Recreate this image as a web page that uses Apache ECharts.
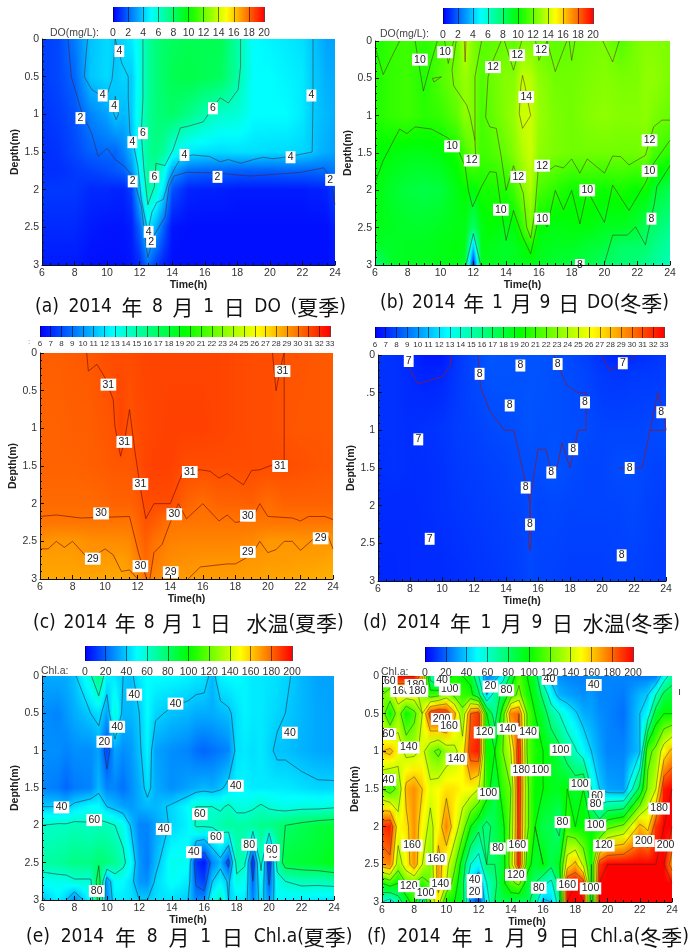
<!DOCTYPE html>
<html><head><meta charset="utf-8">
<style>html,body{margin:0;padding:0;background:#fff}#c{width:699px;height:952px}#c canvas{filter:blur(.45px)}</style>
<script src="https://cdn.jsdelivr.net/npm/echarts@6/dist/echarts.min.js"></script>
</head><body><div id="c"></div>
<script>
// ---------- (a) DO summer ----------
const aTimes=[6,7,8,9,10,10.5,11,11.5,12,12.5,13,13.5,14,15,16,17,18,19,20,21,22,22.5,23,23.5,24];
const aDepths=[0,.5,1,1.5,1.75,2,2.5,3];
const aRows=[
[1.2,1.4,2.4,3.8,4.3,4,4.2,4.6,5.5,6.9,7.6,8,8.2,8.4,8.4,8.4,6.8,5,4.8,4.6,4.4,4,3.6,3.2,3.2],
[1.2,1.4,2,3.9,4.3,3.9,4.2,4,5.4,6.9,7.6,8,8.4,8.6,8.4,8.2,6.8,5,5,4.8,4.6,4.1,3.8,3.4,3.4],
[1,1.2,1.6,2.6,3.2,3.9,3.6,4,5.6,7,7.6,7.8,8,7.4,6.6,6,5.8,5,5,5,4.6,4.1,3.8,3.6,3.4],
[.9,1,1.4,1.9,2.1,2,2.6,3.6,5.4,7,7.4,7,5.6,4.6,4.4,4.3,4.4,4.4,4.3,4.3,4.2,4,3.6,3.4,3.2],
[.9,.9,1.1,1.3,1.5,1.7,1.9,2.8,5,6.8,6.8,5.4,3.2,2.1,2,2,1.9,1.9,1.9,2,2,2,2.1,2.1,2.4],
[1.1,1.1,1.1,.8,.8,.7,.7,1.2,4,6.8,6,4.4,1.6,.7,.6,.6,.5,.5,.5,.5,.5,.6,.6,.7,1.4],
[.8,.8,.8,.5,.4,.4,.4,.6,2,4.5,3.5,1.8,.4,.3,.3,.3,.3,.3,.3,.3,.3,.3,.3,.3,.6],
[.5,.5,.5,.3,.3,.3,.3,.4,.8,2.2,1.2,.6,.3,.3,.3,.3,.3,.3,.3,.3,.3,.3,.3,.3,.4]];
const aLines=[
[[7.6,0],[7.8,.5],[8.45,.98],[9.05,1.25],[9.45,1.56],[10,1.45],[10.5,1.6],[11.1,1.7],[11.6,1.83],[12.1,2.22],[12.5,2.9],[12.9,2.6],[13.56,2.36],[13.8,1.96],[14.1,1.82],[14.9,1.77],[16.7,1.78],[18.8,1.82],[21.9,1.77],[23.3,1.71],[23.7,1.83],[24,2.2]],
[[8.8,0],[8.7,.23],[8.6,.5],[9.05,.67],[9.55,.74],[9.97,.76],[10.3,.54],[10.4,.32],[10.5,0],[10.9,.32],[11.3,.5],[11.3,.8],[11.4,1.25],[11.6,1.38],[11.9,1.7],[12.1,2.13],[12.5,2.56],[12.75,2.3],[13.05,2.17],[13.45,2.13],[13.8,1.87],[14.2,1.7],[14.6,1.56],[15.3,1.54],[16.3,1.56],[16.95,1.63],[17.45,1.6],[18.2,1.65],[19,1.6],[19.6,1.57],[20.2,1.59],[21.2,1.56],[22.6,1.5],[22.65,.8],[22.65,0]],
[[10.5,.76],[10.4,.98],[10.55,1.07],[10.7,1],[10.5,.76]],
[[12.2,0],[12.2,.8],[12.1,1.25],[12.25,1.7],[12.5,2.2],[12.9,1.96],[13,1.65],[13.55,1.68],[14.05,1.47],[14.5,1.18],[14.95,1.16],[15.9,1.1],[16.4,.94],[16.95,.78],[17.45,.85],[18.05,.67],[18.2,.36],[18.2,0]]];
const aLabels=[[10.75,.16,4],[9.73,.75,4],[10.43,.89,4],[8.36,1.05,2],[12.2,1.25,6],[11.55,1.37,4],[14.75,1.54,4],[16.5,.92,6],[22.55,.75,4],[21.27,1.57,4],[16.78,1.83,2],[23.7,1.87,2],[11.57,1.89,2],[12.9,1.83,6],[12.55,2.56,4],[12.7,2.69,2]];
// ---------- (b) DO winter ----------
const bTimes=[6,7,8,9,10,11,11.5,12,12.5,13,14,14.5,15,15.5,16,17,18,19,20,21,22,22.5,23,24];
const bDepths=[0,.5,1,1.5,2,2.5,2.75,3];
const bRows=[
[10.5,11,11.2,10.8,11.3,12,13.8,12.5,11.8,11.8,12,11.8,12.4,12.4,12,11.8,11.9,12.2,12.4,11.6,12.4,12.6,12.6,12.4],
[10.6,11,11.2,10.6,11.6,12.4,13,12.4,11.6,12,12.6,12.6,13.8,13.6,12.8,12.2,12.2,12.4,12.6,12.4,12.4,12.8,12.8,12.4],
[10.6,11,11.2,10.8,11,11.8,12.8,12.4,11.4,11.8,12.6,13,14,14,13,12.4,12.2,12.6,12.8,12.6,12.6,12.8,12.4,12],
[10,9.8,9.6,9.6,9.8,10.4,11.4,12.2,11.2,11.4,12,12.6,13.4,14,12.8,12.4,12.2,12.2,12.2,12.2,12.2,12.4,11.4,10.8],
[9.8,9.2,8.8,8.6,8.8,9.6,10,9.8,10.4,10.4,10.6,11.2,12.4,13.4,11.4,10.8,10.2,10.4,10.2,10.4,10,10.2,9.2,8.4],
[9.6,9.4,9.2,9.2,9.4,9.6,9.6,8,9.6,10,9.6,9.8,11,12.4,10,9.6,9.8,9.8,9.4,9.4,9,8.2,8,7.2],
[9.2,9.2,9.4,9.4,9.6,9.8,9.6,4,9.6,9.6,9.2,9.4,9.8,10.4,9.6,9.4,9.4,9,8.8,8,8,8,7.4,6.8],
[7.5,9.2,9.4,9.4,9.6,9.6,9,.5,9.4,9.4,9.2,9.4,9.4,9.6,9.4,9,8.8,8.6,8,7.8,7.6,7.2,7,6.4]];
const bLines=[
[[6,.08],[6.5,.45],[7,.22],[7.5,0]],
[[8.45,0],[8.95,.67],[9.4,.3],[9.8,0]],
[[10.25,0],[10.47,.3],[10.8,0]],
[[13.9,0],[14.45,.39],[14.95,0]],
[[15.8,0],[16,.26],[16.5,0],[17,.41],[17.7,0]],
[[17.85,0],[18,.26],[18.2,0]],
[[19.9,0],[20.5,.28],[20.9,0]],
[[9.5,.5],[10.05,.48],[9.6,.55],[9.5,.5]],
[[11.45,0],[11.5,.28],[11.55,0]],
[[10.95,0],[10.7,.39],[10.8,.6],[11.6,.86],[11.8,1],[12.1,1.33],[12.15,1.6],[11.95,1.68]],
[[12.5,0],[12.1,.48],[12.1,1.33]],
[[13.7,0],[13.2,.26],[12.9,.48],[12.75,1.02],[13,1.15],[13.4,1.17],[13.7,1.55],[14,2],[14.45,1.67],[15.05,2.04],[15.25,2.49],[15.5,2.64],[15.75,2.3],[16,1.6],[16.5,1.75],[17,1.67],[17.5,1.7],[18,1.58],[18.5,1.77],[18.95,1.58],[20,1.77],[20.5,1.54],[21,1.55],[21.5,1.66],[22.5,1.53],[23,1.15],[23.5,1.06],[24,1.06]],
[[15,.46],[15.15,.6],[15.5,1],[15,1.17],[14.8,.97],[14.9,.6],[15,.46]],
[[6,1.9],[6.5,1.6],[7.5,1.18],[7.95,1.24],[8.45,1.15],[9.45,1.18],[10.47,1.3],[11,1.42],[11.5,1.68],[11.7,2],[11.95,2.22],[12.5,1.95],[13,1.75],[13.4,1.76],[13.7,2.25],[14,2.67],[14.45,2.27],[15,2.62],[15.5,2.85],[16,2.35],[16.5,2.49],[17,2],[17.5,2.26],[18,2],[18.5,2.45],[18.95,2],[20,2.43],[20.5,1.93],[21.5,2.27],[22.5,1.9],[23,1.64],[24,1.33]],
[[20,2.98],[20.5,2.6],[21.4,2.6],[21.9,2.49],[22.5,2.73],[23.05,2.17],[23.2,1.95],[24,1.67]],
[[11.55,3],[12,2.58],[12.45,3]]];
const bLabels=[[8.74,.25,10],[10.27,.15,10],[14.68,.19,12],[16.14,.12,12],[13.2,.35,12],[15.23,.75,14],[10.7,1.41,10],[11.9,1.6,12],[14.74,1.82,12],[16.2,1.67,12],[22.75,1.33,12],[22.75,1.74,10],[18.95,2,10],[13.68,2.26,10],[16.2,2.38,10],[22.87,2.38,8],[18.5,3,8]];
// ---------- (c) water temperature summer ----------
const cTimes=[6,7,8,9,10,10.5,11,11.5,12,12.5,13,14,15,16,17,18,19,20,21,22,23,24];
const cDepths=[0,1,1.5,2,2.25,2.5,2.75,3];
const cRows=[
[30.5,30.5,30.6,30.7,30.9,31,31,31,31.1,31.2,31.2,31.2,31.2,31.2,31.2,31.1,31,31,30.8,30.8,30.7,30.6],
[30.4,30.4,30.5,30.5,30.7,30.8,31.2,30.8,31,31.1,31.2,31.3,31.3,31.3,31.2,31.1,31,31,30.8,30.7,30.7,30.6],
[30.4,30.4,30.4,30.5,30.6,30.7,30.7,30.7,30.9,31.2,31.3,31.3,31,31,31,31,31,31,31,30.9,30.8,30.7],
[30.2,30.2,30.2,30.2,30.3,30.4,30.4,30.4,30.6,31,31,31,30.4,30.1,30.4,30.4,30.5,30.1,30.4,30.4,30.4,30.4],
[29.9,29.9,29.9,29.9,29.9,29.9,29.9,29.9,30.3,30.8,30.6,29.9,29.9,29.9,29.9,29.9,29.9,29.9,29.9,29.9,29.9,29.9],
[29.2,29,29,29.2,29.3,29.3,29.3,29.4,30,30.5,30,29.6,29.5,29.5,29.5,29.5,29.4,29,29,29.1,29,29],
[28.8,28.8,28.8,29,28.9,28.9,28.8,29,29.6,30.2,29.8,29.3,29.2,29.1,29.1,29.1,29,28.9,28.9,28.8,28.8,28.6],
[28.6,28.6,28.6,28.6,28.6,28.6,28.6,28.8,29.1,30,29.5,29,28.9,28.9,28.9,28.9,28.8,28.7,28.6,28.6,28.4,28.3]];
const cLines=[
[[8.87,0],[8.97,.24],[9.5,.15],[10,.33],[10.5,.62],[10.6,.97],[10.95,1.37],[11.2,1.15],[11.5,.75],[11.85,1.33],[12.15,1.77],[12.5,2.2],[13,2],[14,2],[14.8,1.57],[15.85,1.55],[16.45,1.57],[17,1.66],[17.5,1.6],[18.5,1.75],[19,1.56],[19.5,1.55],[20.35,1.48],[21,1.48],[21,0]],
[[20.28,0],[20.5,.5],[20.85,.13],[21,0]],
[[6,2.17],[7,2.15],[8.5,2.19],[11.5,2.17],[12.05,2.65],[12.55,3]],
[[12.75,3],[13,2.65],[13.5,2.54],[14,2.25],[14.5,2],[15,2.2],[16,2],[17,2.23],[17.5,2.15],[18,2.25],[19,2.21],[19.5,2],[20,2.17],[21.5,2.19],[22,2.23],[22.5,2.17],[23.5,2.17],[24,2.21]],
[[6,2.6],[6.5,2.6],[7,2.5],[7.5,2.58],[8,2.5],[9,2.74],[10,2.6],[10.5,2.68],[11,2.9],[11.5,2.88],[12,3]],
[[15.1,3],[15.85,2.84],[17.5,2.8],[18,2.8],[19,2.68],[19.5,2.5],[20,2.65],[20.5,2.61],[21,2.5],[21.5,2.5],[22,2.62],[23,2.43],[23.7,2.43],[24,2.6]]];
const cLabels=[[10.2,.42,31],[11.18,1.18,31],[12.17,1.74,31],[15.2,1.58,31],[20.75,1.5,31],[20.9,.24,31],[9.75,2.13,30],[14.25,2.14,30],[18.77,2.16,30],[9.24,2.73,29],[18.77,2.64,29],[23.24,2.46,29],[12.17,2.83,30],[14.03,2.91,29]];
// ---------- (d) water temperature winter ----------
const dTimes=[6,7,8,9,10,11,12,13,14,15,15.5,16,17,18,19,20,21,22,23,24];
const dDepths=[0,.25,1,1.5,2,3];
const dRows=[
[7.4,7.3,7,6.6,6.6,7.4,7.9,8.3,8.2,8.2,8.2,8.2,8.1,7.9,7.7,7.2,6.9,7.1,7.3,7.5],
[7.3,7.3,7.1,6.9,7,7.5,7.9,8.2,8.2,8.2,8.2,8.2,8.1,8,7.8,7.5,7.4,7.5,7.5,7.6],
[7.3,7.3,7.2,7.3,7.4,7.6,7.7,7.9,8,8.1,8.2,8.1,8.1,8,8,7.8,7.8,7.8,7.9,8],
[7.2,7.3,7.2,7.2,7.3,7.5,7.6,7.7,7.8,8,8,8,8.2,8,7.8,7.8,8,8,7.8,7.7],
[7.1,7.1,7.1,7.2,7.3,7.4,7.5,7.6,7.7,7.8,8,7.8,7.9,7.8,7.8,7.8,7.8,7.9,7.7,7.6],
[7,7,7.1,7.1,7.1,7.2,7.3,7.4,7.5,7.7,7.9,7.8,7.7,7.6,7.6,7.6,7.7,7.7,7.6,7.5]];
const dLines=[
[[7.9,0],[8,.2],[8.5,.38],[10,.29],[10.5,.15],[10.6,0]],
[[19.95,0],[20.5,.21],[21.3,.11],[21.95,.04],[22.1,0]],
[[12.25,0],[12.4,.42],[13,.75],[13.9,1],[14.5,1],[15.05,1.53],[15.5,1.97],[15.5,2.28],[15.4,2.46],[15.5,2.6],[15.6,2.46],[15.52,2.2],[15.5,1.93],[16,1.25],[16.5,1.25],[16.83,1.57],[17.15,1.53],[17.5,1.17],[18,1.5],[18.5,1],[19,1],[19,.5],[18.5,.5],[17.8,.4],[17.25,.15],[17,0]],
[[21,1.5],[22.5,1.5],[23,1],[23.5,.5],[23.9,.82],[24,1],[23,1]]];
const dLabels=[[7.92,.08,7],[12.35,.25,8],[14.9,.14,8],[17.23,.12,8],[21.3,.11,7],[14.23,.67,8],[18.94,.63,8],[23.7,.76,8],[8.52,1.12,7],[18.2,1.25,8],[16.83,1.56,8],[21.73,1.5,8],[15.23,1.76,8],[15.5,2.25,8],[9.23,2.44,7],[21.23,2.66,8]];
// ---------- (e) Chl.a summer ----------
const eTimes=[6,7,7.5,8,9,9.5,10,10.5,11,11.5,12,12.5,13,14,15,15.5,16,16.5,17,17.5,18,18.5,19,19.5,20,20.5,21,22,23,24];
const eDepths=[0,.5,1,1.5,1.75,2,2.5,2.75,3];
const eRows=[
[33,34,34,38,58,78,48,45,40,38,46,50,50,50,48,46,45,36,48,50,50,48,46,46,45,44,42,36,32,32],
[28,26,30,34,40,44,32,58,36,36,40,50,42,38,36,34,34,34,36,38,44,48,46,46,44,42,40,36,33,32],
[28,28,26,28,28,32,14,32,28,30,38,48,32,28,26,22,20,22,24,26,44,46,44,46,42,38,38,35,33,32],
[26,24,20,24,26,36,26,26,22,28,34,44,34,28,32,34,36,34,38,44,48,48,46,46,46,46,46,44,42,42],
[40,40,38,44,50,50,40,36,32,30,34,36,36,42,50,60,60,60,58,62,56,56,58,62,58,56,54,56,56,58],
[60,62,62,64,62,64,64,60,54,38,26,26,32,42,48,62,62,62,66,70,68,68,70,72,74,76,80,84,88,90],
[68,70,72,74,74,78,76,72,64,50,30,24,36,54,52,10,4,26,36,14,66,62,8,66,6,66,88,90,92,96],
[52,54,54,58,58,90,30,52,50,44,30,28,42,52,46,18,12,40,48,38,56,52,20,52,18,54,60,64,64,66],
[38,48,40,26,52,86,28,46,46,44,40,40,44,44,40,26,28,52,62,40,46,46,26,46,28,50,48,48,46,44]];
const eLevels=[20,40,60,80];
const eLabels=[[11.69,.25,40],[14.23,.37,40],[10.64,.68,40],[9.84,.88,20],[21.28,.76,40],[17.95,1.47,40],[7.2,1.76,40],[9.22,1.93,60],[15.73,1.85,60],[13.5,2.05,40],[16.72,2.16,60],[15.36,2.36,40],[18.77,2.26,80],[20.17,2.4,40],[20.17,2.33,60],[9.37,2.88,80]];
// ---------- (f) Chl.a winter ----------
const fTimes=[6,6.5,7,7.5,8,8.5,9,9.5,10,10.5,11,11.5,12,12.5,13,13.5,14,14.5,15,15.5,16,16.5,17,17.5,18,18.5,19,19.5,20,21,22,22.5,23,23.5,24];
const fDepths=[0,.25,.5,1,1.5,2,2.5,2.75,3];
const fRows=[
[100,100,200,200,200,170,70,50,90,105,100,95,60,25,30,50,85,115,100,90,50,35,28,26,25,25,30,26,26,26,24,24,24,50,70],
[120,130,150,150,150,130,110,115,130,115,110,105,85,40,70,85,110,125,105,95,75,50,35,32,30,28,30,26,26,24,36,40,60,85,90],
[130,100,130,100,115,140,190,198,192,165,125,180,190,100,70,110,175,180,120,100,90,70,60,50,42,34,32,28,26,22,40,50,90,100,100],
[160,165,150,135,135,145,125,115,130,135,150,190,195,100,100,120,140,195,120,105,100,95,85,70,62,50,40,32,26,26,38,115,125,150,165],
[120,110,125,165,172,160,145,150,155,155,150,150,140,110,85,110,120,195,125,100,100,95,95,100,90,100,60,40,32,30,85,125,140,195,200],
[190,195,150,155,172,150,135,150,175,150,130,100,85,75,85,95,125,190,125,100,85,85,75,110,100,100,100,90,115,125,165,155,190,200,200],
[170,175,130,150,172,140,125,170,145,125,90,60,50,80,80,90,130,195,110,90,100,85,95,150,165,135,100,190,200,200,200,200,200,200,170],
[100,110,100,120,120,110,120,170,140,110,85,40,25,60,75,95,115,125,90,80,65,55,85,195,200,190,95,200,200,200,200,200,200,200,200],
[60,50,70,90,110,60,130,150,100,100,90,30,12,50,80,85,85,80,85,70,35,40,70,200,200,200,85,200,200,200,200,200,200,200,200]];
const fLevels=[20,40,60,80,100,120,140,160,180,200];
const fLabels=[[6.48,.07,60],[7.18,.2,160],[8.07,.12,180],[8.2,.2,180],[10.2,.18,100],[9.73,.06,40],[12.73,.14,20],[13.72,.19,80],[16.39,.04,40],[19.15,.12,40],[9.7,.57,200],[10.16,.66,160],[12.36,.75,120],[13.8,.7,140],[15.07,.75,140],[17.08,.98,100],[6.4,.77,60],[7.66,.95,140],[10.62,1.1,140],[14.65,1.25,180],[15.83,1.25,100],[18.28,1.44,100],[6.4,1.38,40],[12.6,1.56,100],[19.35,1.59,60],[19.25,1.7,80],[23.2,1.76,180],[17.2,1.94,80],[19.25,1.98,100],[7.86,2.25,160],[13.2,2.29,80],[14.4,2.25,160],[19.77,2.25,120],[22.25,2.19,200],[23.6,2.25,200],[9.37,2.43,160],[14.3,2.64,120],[11.74,2.71,40],[9.62,2.76,140],[7.66,2.79,120],[17.5,2.77,160],[15.73,2.81,80],[18.94,2.82,100],[8.7,2.88,100],[11.74,2.87,20]];
// ---------- colour bar levels ----------
const doLevels=[0,2,4,6,8,10,12,14,16,18,20];
const tempLevels=[6,7,8,9,10,11,12,13,14,15,16,17,18,19,20,21,22,23,24,25,26,27,28,29,30,31,32,33];
const chlLevels=[0,20,40,60,80,100,120,140,160,180,200];
const timeTicks={min:6,max:24,interval:2};
const depthTicks={min:0,max:3,interval:.5};
const captions=['(a) 2014 年 8 月 1 日 DO (夏季)','(b) 2014 年 1 月 9 日 DO(冬季)','(c) 2014 年 8 月 1 日  水温(夏季)','(d) 2014 年 1 月 9 日 水温(冬季)','(e) 2014 年 8 月 1 日 Chl.a(夏季)','(f) 2014 年 1 月 9 日 Chl.a(冬季)'];
const barNames=['DO(mg/L):','DO(mg/L):','','','Chl.a:','Chl.a:'];

const panels=[
 {t:aTimes,d:aDepths,r:aRows,lines:aLines,labels:aLabels,lv:doLevels,plot:[42,39,293,226],bar:[113,7,151,15],fs:10.5,cap:[35,297],sp:16,name:[50,28],lc:'rgba(90,25,35,.5)',gap:13},
 {t:bTimes,d:bDepths,r:bRows,lines:bLines,labels:bLabels,lv:doLevels,plot:[375,41,295,224],bar:[443,8,150,16],fs:10.5,cap:[380,293],sp:13,name:[380,29],lc:'rgba(90,30,25,.5)',gap:12},
 {t:cTimes,d:cDepths,r:cRows,lines:cLines,labels:cLabels,lv:tempLevels,plot:[40,353,293,226],bar:[40,326,290,11],fs:8,cap:[33,613],sp:13,name:null,lc:'rgba(110,10,0,.6)',gap:12},
 {t:dTimes,d:dDepths,r:dRows,lines:dLines,labels:dLabels,lv:tempLevels,plot:[378,355,288,226],bar:[375,327,289,11],fs:8,cap:[363,613],sp:16,name:null,lc:'rgba(130,30,60,.8)',gap:14,half:true},
 {t:eTimes,d:eDepths,r:eRows,levels:eLevels,labels:eLabels,lv:chlLevels,plot:[42,676,292,224],bar:[85,646,207,15],fs:10.5,cap:[26,927],sp:18,name:[41,666],lc:'rgba(40,40,50,.55)',gap:15},
 {t:fTimes,d:fDepths,r:fRows,levels:fLevels,labels:fLabels,lv:chlLevels,plot:[382,676,290,226],bar:[425,647,208,15],fs:10.5,cap:[367,927],sp:18,name:[381,667],lc:'rgba(40,50,30,.45)',gap:17}];

const ramp=[[0,0,255],[0,255,255],[0,255,0],[255,255,0],[255,0,0]];
function colorOf(v,lo,hi){
  let f=Math.max(0,Math.min(1,(v-lo)/(hi-lo)))*4,i=Math.min(3,Math.floor(f)),k=f-i;
  const a=ramp[i],b=ramp[i+1];
  return 'rgb('+Math.round(a[0]+(b[0]-a[0])*k)+','+Math.round(a[1]+(b[1]-a[1])*k)+','+Math.round(a[2]+(b[2]-a[2])*k)+')';
}
// contour segments through the read grid (marching squares)
function contourSegments(p,level){
  const out=[];
  for(let j=0;j<p.d.length-1;j++)for(let i=0;i<p.t.length-1;i++){
    const c=[[p.t[i],p.d[j],p.r[j][i]],[p.t[i+1],p.d[j],p.r[j][i+1]],[p.t[i+1],p.d[j+1],p.r[j+1][i+1]],[p.t[i],p.d[j+1],p.r[j+1][i]]];
    const pts=[];
    for(let e=0;e<4;e++){
      const A=c[e],B=c[(e+1)%4];
      if((A[2]<level)!==(B[2]<level)){const k=(level-A[2])/(B[2]-A[2]);pts.push([A[0]+(B[0]-A[0])*k,A[1]+(B[1]-A[1])*k]);}
    }
    for(let q=0;q+1<pts.length;q+=2)out.push(pts[q],pts[q+1],[NaN,NaN]);
  }
  return out;
}
function fieldRenderer(p){
  const lo=p.lv[0],hi=p.lv[p.lv.length-1],nd=p.d.length,span=p.d[nd-1]-p.d[0];
  return function(params,api){
    const idx=params.dataIndex;
    if(idx%nd!==0)return;
    const i=idx/nd;
    if(i>=p.t.length-1)return;
    const x0=api.coord([p.t[i],0])[0],x1=api.coord([p.t[i+1],0])[0];
    const y0=api.coord([6,0])[1],y1=api.coord([6,3])[1];
    const kids=[];
    for(let x=Math.floor(x0);x<Math.ceil(x1);x++){
      const k=Math.max(0,Math.min(1,(x+.5-x0)/(x1-x0))),stops=[];
      for(let j=0;j<nd-1;j++)for(let s=0;s<4;s++){
        const m=s/4,v0=p.r[j][i]+(p.r[j][i+1]-p.r[j][i])*k,v1=p.r[j+1][i]+(p.r[j+1][i+1]-p.r[j+1][i])*k;
        stops.push({offset:(p.d[j]+(p.d[j+1]-p.d[j])*m)/span,color:colorOf(v0+(v1-v0)*m,lo,hi)});
      }
      stops.push({offset:1,color:colorOf(p.r[nd-1][i]+(p.r[nd-1][i+1]-p.r[nd-1][i])*k,lo,hi)});
      kids.push({type:'rect',shape:{x:x,y:y0,width:1,height:y1-y0},style:{fill:new echarts.graphic.LinearGradient(0,0,0,1,stops)},silent:true});
    }
    return {type:'group',children:kids,silent:true};
  };
}
function barRenderer(p){
  const lo=p.lv[0],hi=p.lv[p.lv.length-1];
  return function(params,api){
    const a=api.value(0),b=api.value(2),A=api.coord([a,0]),B=api.coord([b,1]),stops=[];
    for(let s=0;s<=6;s++)stops.push({offset:s/6,color:colorOf(a+(b-a)*s/6,lo,hi)});
    return {type:'rect',shape:{x:A[0],y:B[1],width:B[0]-A[0]+.5,height:A[1]-B[1]},style:{fill:new echarts.graphic.LinearGradient(0,0,1,0,stops)},silent:true};
  };
}
const FONT='"Liberation Sans",Arial,sans-serif',INK='#333';
const opt={animation:false,backgroundColor:'#fff',grid:[],xAxis:[],yAxis:[],series:[],title:[]};
const monoSpace=size=>({fontFamily:'"Liberation Mono"',fontSize:size,fontWeight:'normal',color:'#111'});
const capRich={c:{fontFamily:'"Noto Sans CJK JP"',fontSize:21,fontWeight:'normal',color:'#111'},l:{fontFamily:'"DejaVu Sans Condensed","DejaVu Sans",sans-serif',fontSize:19,fontWeight:'normal',color:'#111'},s13:monoSpace(13),s16:monoSpace(16),s18:monoSpace(18)};
function capText(s,sp){
  return s.replace(/([\u4e00-\u9fff]+)|( )|([^\u4e00-\u9fff ]+)/g,(m,c,blank,l)=>c?'{c|'+c+'}':blank?'{s'+sp+'| }':'{l|'+l+'}');
}
panels.forEach((p,n)=>{
  const gi=opt.grid.length;
  opt.grid.push({left:p.plot[0],top:p.plot[1],width:p.plot[2],height:p.plot[3]});
  opt.grid.push({left:p.bar[0],top:p.bar[1],width:p.bar[2],height:p.bar[3]});
  opt.xAxis.push({gridIndex:gi,type:'value',min:timeTicks.min,max:timeTicks.max,interval:timeTicks.interval,z:6,
    axisLine:{onZero:false,lineStyle:{color:'#111'}},axisTick:{inside:true,length:4,lineStyle:{color:'#111'}},minorTick:{show:true,splitNumber:4,length:2,lineStyle:{color:'#111'}},splitLine:{show:false},
    axisLabel:{color:INK,fontFamily:FONT,fontSize:10.5,margin:3,hideOverlap:false},
    name:'Time(h)',nameLocation:'middle',nameGap:6,nameTextStyle:{fontFamily:FONT,fontWeight:'bold',fontSize:10.5,color:'#222'}});
  opt.yAxis.push({gridIndex:gi,type:'value',inverse:true,min:depthTicks.min,max:depthTicks.max,interval:depthTicks.interval,z:6,
    axisLine:{onZero:false,lineStyle:{color:'#111'}},axisTick:{inside:true,length:4,lineStyle:{color:'#111'}},minorTick:{show:true,splitNumber:5,length:2,lineStyle:{color:'#111'}},splitLine:{show:false},
    axisLabel:{color:INK,fontFamily:FONT,fontSize:10.5,margin:3,hideOverlap:false,formatter:v=>(p.half&&v===.5)?'.5':String(v)},
    name:'Depth(m)',nameLocation:'middle',nameGap:p.gap,nameRotate:90,nameTextStyle:{fontFamily:FONT,fontWeight:'bold',fontSize:10.5,color:'#222'}});
  const lo=p.lv[0],hi=p.lv[p.lv.length-1];
  opt.xAxis.push({gridIndex:gi+1,type:'value',min:lo,max:hi,interval:p.lv[1]-p.lv[0],z:6,
    axisLine:{show:false},axisTick:{inside:true,length:p.bar[3],lineStyle:{color:'rgba(0,0,0,.55)'}},splitLine:{show:false},
    axisLabel:{color:INK,fontFamily:FONT,fontSize:p.fs,margin:p.fs<10?3:6,hideOverlap:false}});
  opt.yAxis.push({gridIndex:gi+1,type:'value',min:0,max:1,show:false});
  // field
  const pts=[];
  p.t.forEach((t,i)=>p.d.forEach((d,j)=>pts.push([t,d,p.r[j][i]])));
  opt.series.push({type:'custom',xAxisIndex:gi,yAxisIndex:gi,data:pts,encode:{x:0,y:1},renderItem:fieldRenderer(p),clip:true,z:1,silent:true});
  // contour lines
  const lineSets=p.lines||p.levels.map(l=>contourSegments(p,l));
  lineSets.forEach(ls=>opt.series.push({type:'line',xAxisIndex:gi,yAxisIndex:gi,data:ls,showSymbol:false,symbol:'none',connectNulls:false,clip:true,z:2,silent:true,lineStyle:{width:1,color:p.lc}}));
  // contour labels
  opt.series.push({type:'scatter',xAxisIndex:gi,yAxisIndex:gi,data:p.labels,symbolSize:1,clip:false,z:3,silent:true,itemStyle:{color:'rgba(0,0,0,0)',opacity:1},
    label:{show:true,position:'inside',opacity:1,formatter:q=>String(q.value[2]),fontFamily:FONT,fontSize:10.5,color:'#222',backgroundColor:'#fff',padding:[1,2,0,2]}});
  // colour bar
  opt.series.push({type:'custom',xAxisIndex:gi+1,yAxisIndex:gi+1,data:p.lv.slice(0,-1).map((l,i)=>[l,0,p.lv[i+1]]),encode:{x:0,y:1},renderItem:barRenderer(p),clip:false,z:1,silent:true});
  // titles
  opt.title.push({text:capText(captions[n],p.sp),left:p.cap[0],top:p.cap[1],padding:0,textStyle:{fontWeight:'normal',rich:capRich}});
  if(p.name)opt.title.push({text:barNames[n],left:p.name[0],top:p.name[1],padding:0,textStyle:{fontFamily:FONT,fontSize:10.5,fontWeight:'normal',color:'#444'}});
});
opt.title.push({text:':',left:28,top:338,padding:0,textStyle:{fontFamily:FONT,fontSize:8,fontWeight:'normal',color:'#777'}});
opt.title.push({text:'ı',left:678,top:686,padding:0,textStyle:{fontFamily:FONT,fontSize:11,fontWeight:'normal',color:'#444'}});
echarts.init(document.getElementById('c'),null,{renderer:'canvas'}).setOption(opt);
</script></body></html>
